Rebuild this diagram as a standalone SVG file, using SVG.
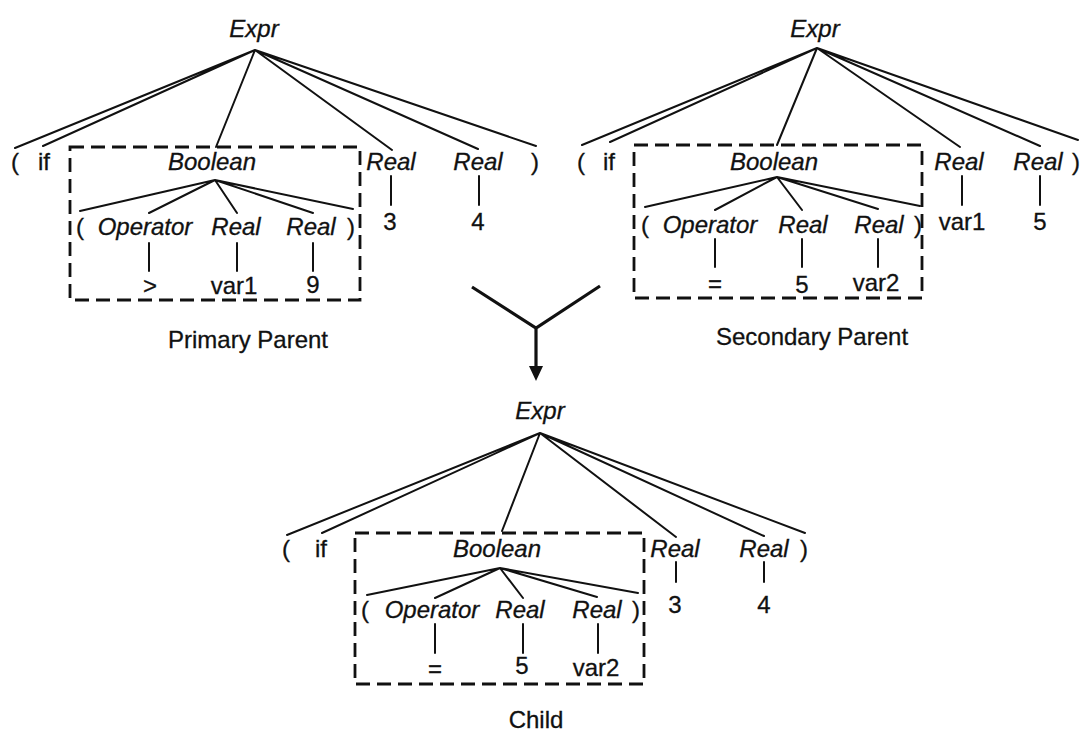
<svg xmlns="http://www.w3.org/2000/svg" width="1091" height="731" viewBox="0 0 1091 731">
<defs>
<style>
text{font-family:"Liberation Sans",Arial,sans-serif;font-size:24px;fill:#111;text-anchor:middle;stroke:#111;stroke-width:0.3}
.nt{font-style:italic}
.cap{font-size:24px}
.e{stroke:#111;stroke-width:2;fill:none;stroke-linecap:round}
.box{stroke:#111;stroke-width:2.8;fill:none;stroke-dasharray:14 7}
.arm{stroke:#111;stroke-width:3.2;fill:none}
</style>
</defs>
<rect width="1091" height="731" fill="#fff"/>

<g id="connectors">
<!-- Tree 1 -->
<path class="e" d="M255,50L15,148M255,50L43,146M255,50L216,147M255,50L392,150M255,50L478,149M255,50L536,146"/>
<path class="e" d="M215,180L80,211M215,180L149,213M215,180L237,213M215,180L313,213M215,180L353,209"/>
<path class="e" d="M391,176V205M479,176V205M149,243V271M237,243V271M313,243V271"/>
<!-- Tree 2 -->
<path class="e" d="M817,48L582,145M817,48L610,142M817,48L777,145M817,48L960,147M817,48L1040,146M817,48L1078,140"/>
<path class="e" d="M777,177L645,207M777,177L715,210M777,177L802,210M777,177L878,209M777,177L920,206"/>
<path class="e" d="M962,176V205M1040,176V205M715,239V267M802,239V267M878,239V267"/>
<!-- Tree 3 -->
<path class="e" d="M540,433L287,535M540,433L322,533M540,433L502,531M540,433L676,537M540,433L764,536M540,433L805,533"/>
<path class="e" d="M500,568L367,595M500,568L435,598M500,568L523,598M500,568L597,597M500,568L638,593"/>
<path class="e" d="M676,562V582M764,562V582M435,624V653M523,624V653M598,624V653"/>
<!-- Crossover arrow -->
<path class="arm" d="M472,287L536,328L600,286M536,328V368"/>
<polygon points="529,366 543,366 536,381" fill="#111"/>
</g>

<g id="primary-parent">
<rect class="box" x="70" y="147" width="290" height="153"/>
<text class="nt" x="254" y="37">Expr</text>
<text x="15" y="170">(</text>
<text x="44" y="170">if</text>
<text class="nt" x="212" y="170">Boolean</text>
<text class="nt" x="391" y="170">Real</text>
<text class="nt" x="478" y="170">Real</text>
<text x="535" y="170">)</text>
<text x="80" y="235">(</text>
<text class="nt" x="145" y="235">Operator</text>
<text class="nt" x="236" y="235">Real</text>
<text class="nt" x="311" y="235">Real</text>
<text x="351" y="235">)</text>
<text x="150" y="294">&gt;</text>
<text x="234" y="294">var1</text>
<text x="313" y="293">9</text>
<text x="390" y="230">3</text>
<text x="478" y="230">4</text>
<text class="cap" x="248" y="348">Primary Parent</text>
</g>

<g id="secondary-parent">
<rect class="box" x="634" y="145" width="288" height="153"/>
<text class="nt" x="815" y="37">Expr</text>
<text x="581" y="170">(</text>
<text x="609" y="170">if</text>
<text class="nt" x="774" y="170">Boolean</text>
<text class="nt" x="959" y="170">Real</text>
<text class="nt" x="1038" y="170">Real</text>
<text x="1076" y="170">)</text>
<text x="645" y="233">(</text>
<text class="nt" x="710" y="233">Operator</text>
<text class="nt" x="803" y="233">Real</text>
<text class="nt" x="879" y="233">Real</text>
<text x="918" y="233">)</text>
<text x="715" y="292">=</text>
<text x="802" y="293">5</text>
<text x="876" y="291">var2</text>
<text x="962" y="230">var1</text>
<text x="1040" y="230">5</text>
<text class="cap" x="812" y="345">Secondary Parent</text>
</g>

<g id="child">
<rect class="box" x="355" y="533" width="289" height="151"/>
<text class="nt" x="540" y="419">Expr</text>
<text x="286" y="557">(</text>
<text x="321" y="557">if</text>
<text class="nt" x="497" y="557">Boolean</text>
<text class="nt" x="675" y="557">Real</text>
<text class="nt" x="764" y="557">Real</text>
<text x="804" y="557">)</text>
<text x="365" y="618">(</text>
<text class="nt" x="432" y="618">Operator</text>
<text class="nt" x="520" y="618">Real</text>
<text class="nt" x="597" y="618">Real</text>
<text x="636" y="618">)</text>
<text x="435" y="677">=</text>
<text x="522" y="674">5</text>
<text x="596" y="676">var2</text>
<text x="675" y="613">3</text>
<text x="764" y="613">4</text>
<text class="cap" x="536" y="728">Child</text>
</g>
</svg>
